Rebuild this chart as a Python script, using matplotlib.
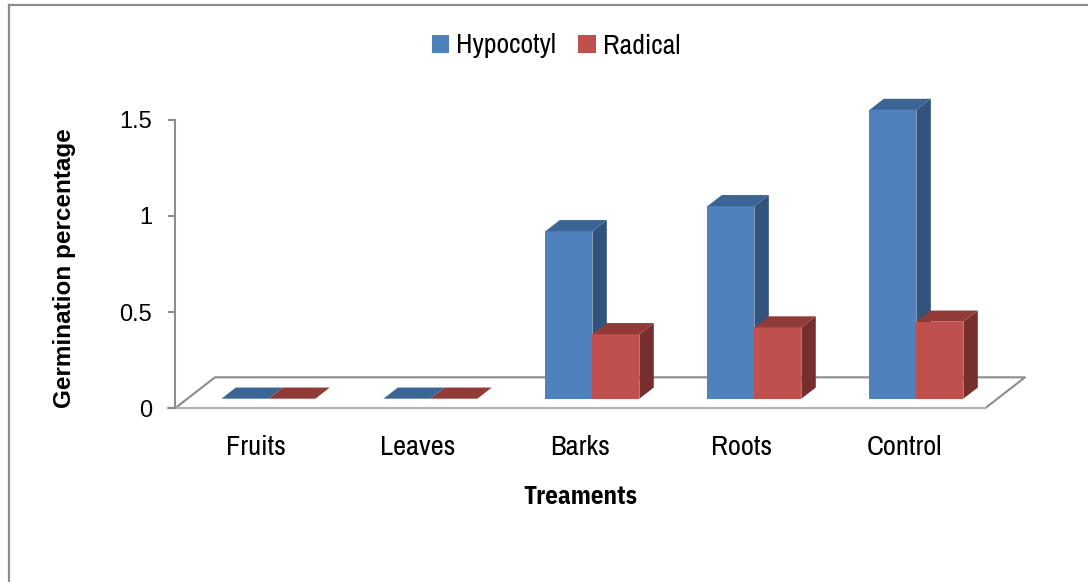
import matplotlib.pyplot as plt
from matplotlib.patches import Polygon, Patch
from matplotlib.lines import Line2D

categories = ["Fruits", "Leaves", "Barks", "Roots", "Control"]
hypocotyl = [0.0, 0.0, 0.87, 1.0, 1.5]
radical = [0.0, 0.0, 0.335, 0.37, 0.40]
y_ticks = [0, 0.5, 1, 1.5]

# face colours: front, top, side
BLUE = ("#4f81bd", "#3b6594", "#31537c")
RED = ("#c0504d", "#913b38", "#772f2d")

# oblique "3-D" projection: one unit of depth moves right and up
DX = 0.247   # category units
DY = 0.161   # value units
BAR_W = 0.29
Z0 = 0.31    # front of bars, as a fraction of floor depth
ZD = 0.36    # bar depth

NARROW = ["Archivo Narrow", "Liberation Sans", "DejaVu Sans"]
NARROW_BOLD = ["IBM Plex Sans Condensed", "Fira Sans Condensed", "Liberation Sans"]
ARIAL = ["Liberation Sans", "DejaVu Sans"]

fig = plt.figure(figsize=(10.88, 5.82), dpi=100)
ax = fig.add_axes([0.14596, 0.19923, 0.81149, 0.72766])
ax.set_xlim(-0.6, 4.85)
ax.set_ylim(-0.3, 1.9)

# chart frame
fig.add_artist(Line2D([9 / 1088, 1.0], [1 - 5 / 582, 1 - 5 / 582],
                      color="#8c8c8c", lw=1.6, transform=fig.transFigure))
fig.add_artist(Line2D([9 / 1088, 9 / 1088], [0.0, 1 - 5 / 582],
                      color="#8c8c8c", lw=1.6, transform=fig.transFigure))

# floor
n = len(categories)
x0, x1 = -0.5, n - 0.5
ax.plot([x0, x0 + DX, x1 + DX, x1], [0, DY, DY, 0], color="#8c8c8c", lw=1.5,
        zorder=1, solid_capstyle="butt")
ax.plot([x0 - 0.045, x1], [0, 0], color="#b4b4b4", lw=1.6, zorder=1)

# value axis
for s in ["top", "right", "bottom"]:
    ax.spines[s].set_visible(False)
ax.spines["left"].set_position(("data", x0))
ax.spines["left"].set_bounds(0, 1.5)
ax.spines["left"].set_color("#8c8c8c")
ax.spines["left"].set_linewidth(1.5)
ax.set_yticks(y_ticks)
ax.set_yticklabels(["0", "0.5", "1", "1.5"], fontfamily=ARIAL, fontsize=17)
ax.tick_params(axis="y", direction="out", length=5, width=1.5, color="#8c8c8c",
               pad=11.5, labelcolor="black")
ax.set_xticks([])


def draw_bar(xl, v, colors):
    front, top, side = colors
    b = Z0 * DY
    ddx, ddy = ZD * DX, ZD * DY
    ax.add_patch(Polygon([(xl + BAR_W, b), (xl + BAR_W + ddx, b + ddy),
                          (xl + BAR_W + ddx, b + v + ddy), (xl + BAR_W, b + v)],
                         closed=True, facecolor=side, edgecolor="none", zorder=3))
    ax.add_patch(Polygon([(xl, b), (xl + BAR_W, b), (xl + BAR_W, b + v), (xl, b + v)],
                         closed=True, facecolor=front, edgecolor="none", zorder=3))
    ax.add_patch(Polygon([(xl, b + v), (xl + BAR_W, b + v),
                          (xl + BAR_W + ddx, b + v + ddy), (xl + ddx, b + v + ddy)],
                         closed=True, facecolor=top, edgecolor="none", zorder=3))


for i in range(n):
    shift = Z0 * DX
    draw_bar(i - BAR_W + shift, hypocotyl[i], BLUE)
    draw_bar(i + shift, radical[i], RED)
    ax.text(i, -0.205, categories[i], ha="center", va="center",
            fontfamily=NARROW, fontsize=20.5)

fig.text(65 / 1088, 1 - 268 / 582, "Germination percentage", rotation=90,
         ha="center", va="center", fontfamily=ARIAL, fontweight="bold", fontsize=17.5)
fig.text(580 / 1088, 1 - 497 / 582, "Treaments", ha="center", va="center",
         fontfamily=NARROW_BOLD, fontweight="bold", fontsize=18)

handles = [Patch(facecolor=BLUE[0], label="Hypocotyl"),
           Patch(facecolor=RED[0], label="Radical")]
fig.legend(handles=handles, loc="center", bbox_to_anchor=(556 / 1088, 1 - 46 / 582),
           ncol=2, frameon=False, prop={"family": NARROW, "size": 20},
           handlelength=0.62, handleheight=0.62, handletextpad=0.25, columnspacing=0.8)

fig.savefig("out.png", dpi=100)
